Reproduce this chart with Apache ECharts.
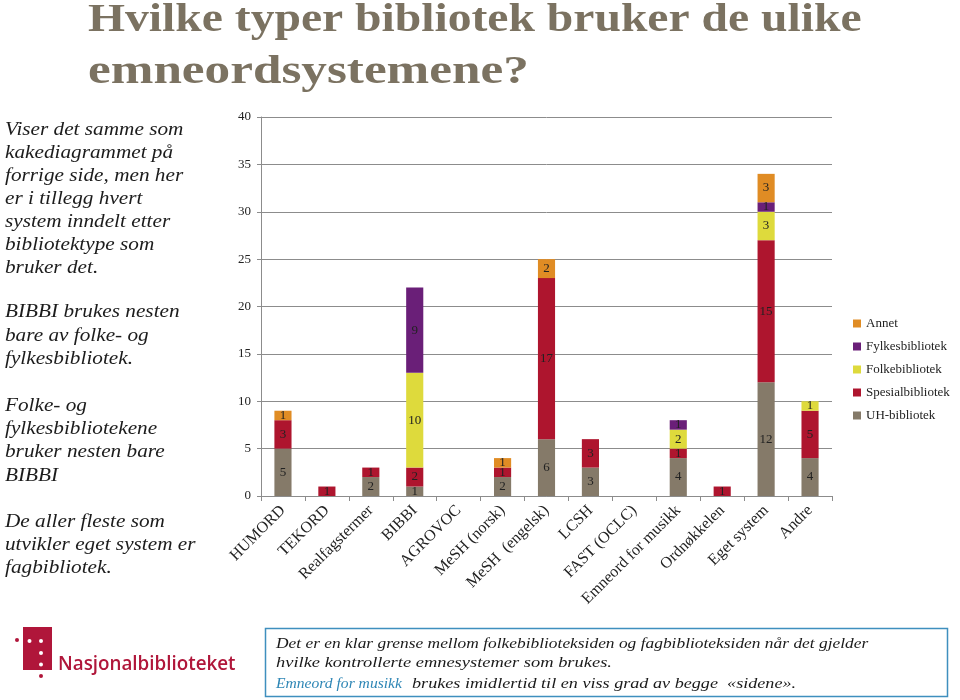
<!DOCTYPE html>
<html>
<head>
<meta charset="utf-8">
<script src="https://cdn.jsdelivr.net/npm/echarts@6/dist/echarts.min.js"></script>
<style>html,body{margin:0;padding:0;background:#fff}#c{width:960px;height:700px}</style>
</head>
<body>
<div id="c"></div>
<script>
const categories = ['HUMORD','TEKORD','Realfagstermer','BIBBI','AGROVOC','MeSH (norsk)','MeSH  (engelsk)','LCSH','FAST (OCLC)','Emneord for musikk','Ordnøkkelen','Eget system','Andre'];
const uhBibliotek     = [5, 0, 2, 1, 0, 2, 6, 3, 0, 4, 0, 12, 4];
const spesialBibliotek= [3, 1, 1, 2, 0, 1, 17, 3, 0, 1, 1, 15, 5];
const folkeBibliotek  = [0, 0, 0, 10, 0, 0, 0, 0, 0, 2, 0, 3, 1];
const fylkesBibliotek = [0, 0, 0, 9, 0, 0, 0, 0, 0, 1, 0, 1, 0];
const annet           = [1, 0, 0, 0, 0, 1, 2, 0, 0, 0, 0, 3, 0];
const yTicks = [0, 5, 10, 15, 20, 25, 30, 35, 40];

const serif = '"Liberation Serif", "Times New Roman", serif';
const chart = echarts.init(document.getElementById('c'), null, {renderer: 'canvas'});

function mk(name, data, color) {
  return {
    name: name, type: 'bar', stack: 'total', data: data, barWidth: '39%',
    itemStyle: {color: color},
    label: {show: true, position: 'inside', color: '#222', fontFamily: serif, fontSize: 13,
      formatter: p => (p.value ? String(p.value) : '')}
  };
}

const leftLines = [
  ['Viser det samme som', 130], ['kakediagrammet på', 153], ['forrige side, men her', 176],
  ['er i tillegg hvert', 199], ['system inndelt etter', 222], ['bibliotektype som', 245], ['bruker det.', 268],
  ['BIBBI brukes nesten', 312], ['bare av folke- og', 336], ['fylkesbibliotek.', 359],
  ['Folke- og', 406], ['fylkesbibliotekene', 429], ['bruker nesten bare', 452], ['BIBBI', 476],
  ['De aller fleste som', 522], ['utvikler eget system er', 545], ['fagbibliotek.', 568]
];

function txt(t, x, y, font, fill, sx, baseline) {
  return {type: 'text', x: x, y: y, scaleX: sx || 1,
    style: {text: t, font: font, fill: fill, textVerticalAlign: baseline || 'middle'}};
}

const titleFont = 'bold 40px ' + serif;
const boxFont = 'italic 15px ' + serif;
const graphics = [
  txt('Hvilke typer bibliotek bruker de ulike', 88, 41, titleFont, '#7B7261', 1.19, 'bottom'),
  txt('emneordsystemene?', 88, 93, titleFont, '#7B7261', 1.28, 'bottom'),
  // bottom box
  {type: 'rect', shape: {x: 265.5, y: 628.5, width: 682, height: 68}, style: {fill: '#fff', stroke: '#3F8FBE', lineWidth: 1.5}},
  txt('Det er en klar grense mellom folkebiblioteksiden og fagbiblioteksiden når det gjelder', 276, 644, boxFont, '#1a1a1a', 1.16),
  txt('hvilke kontrollerte emnesystemer som brukes.', 276, 663, boxFont, '#1a1a1a', 1.23),
  txt('Emneord for musikk', 276, 684, boxFont, '#2E86B5', 1.04),
  txt('brukes imidlertid til en viss grad av begge  «sidene».', 412, 684, boxFont, '#1a1a1a', 1.21),
  // logo
  {type: 'rect', shape: {x: 23, y: 627, width: 29, height: 43}, style: {fill: '#B0163A'}},
  {type: 'circle', shape: {cx: 29.5, cy: 641, r: 2}, style: {fill: '#fff'}},
  {type: 'circle', shape: {cx: 41, cy: 641, r: 2}, style: {fill: '#fff'}},
  {type: 'circle', shape: {cx: 41, cy: 653, r: 2}, style: {fill: '#fff'}},
  {type: 'circle', shape: {cx: 41, cy: 664.5, r: 2}, style: {fill: '#fff'}},
  {type: 'circle', shape: {cx: 17, cy: 640, r: 2}, style: {fill: '#B0163A'}},
  {type: 'circle', shape: {cx: 41, cy: 676, r: 2}, style: {fill: '#B0163A'}},
  txt('Nasjonalbiblioteket', 58, 664, '600 20px "Open Sans", "Liberation Sans", sans-serif', '#B0163A', 0.94)
];
leftLines.forEach(([t, y]) => graphics.push(txt(t, 5, y, 'italic 18px ' + serif, '#1c1c1c', 1.18)));

chart.setOption({
  animation: false,
  backgroundColor: '#fff',
  grid: {left: 261, right: 128, top: 117, bottom: 204, containLabel: false},
  legend: {
    data: ['Annet', 'Fylkesbibliotek', 'Folkebibliotek', 'Spesialbibliotek', 'UH-bibliotek'],
    orient: 'vertical', left: 848, top: 312, itemWidth: 8, itemHeight: 8, itemGap: 10,
    icon: 'rect', textStyle: {fontFamily: serif, fontSize: 13, color: '#222'}
  },
  xAxis: {
    type: 'category', data: categories,
    axisLine: {lineStyle: {color: '#8c8c8c'}},
    axisTick: {show: true, length: 5, lineStyle: {color: '#8c8c8c'}},
    axisLabel: {rotate: 45, interval: 0, fontFamily: serif, fontSize: 16, color: '#222', margin: 12}
  },
  yAxis: {
    type: 'value', min: 0, max: 40, interval: 5,
    axisLine: {show: true, lineStyle: {color: '#8c8c8c'}},
    axisTick: {show: true, length: 4, lineStyle: {color: '#8c8c8c'}},
    splitLine: {lineStyle: {color: '#8c8c8c'}},
    axisLabel: {fontFamily: serif, fontSize: 13, color: '#222', margin: 10,
      formatter: v => (yTicks.includes(v) ? String(v) : '')}
  },
  series: [
    mk('UH-bibliotek', uhBibliotek, '#857A69'),
    mk('Spesialbibliotek', spesialBibliotek, '#AE152E'),
    mk('Folkebibliotek', folkeBibliotek, '#DEDA3C'),
    mk('Fylkesbibliotek', fylkesBibliotek, '#6A1F78'),
    mk('Annet', annet, '#E08C24')
  ],
  graphic: graphics
});
</script>
</body>
</html>
